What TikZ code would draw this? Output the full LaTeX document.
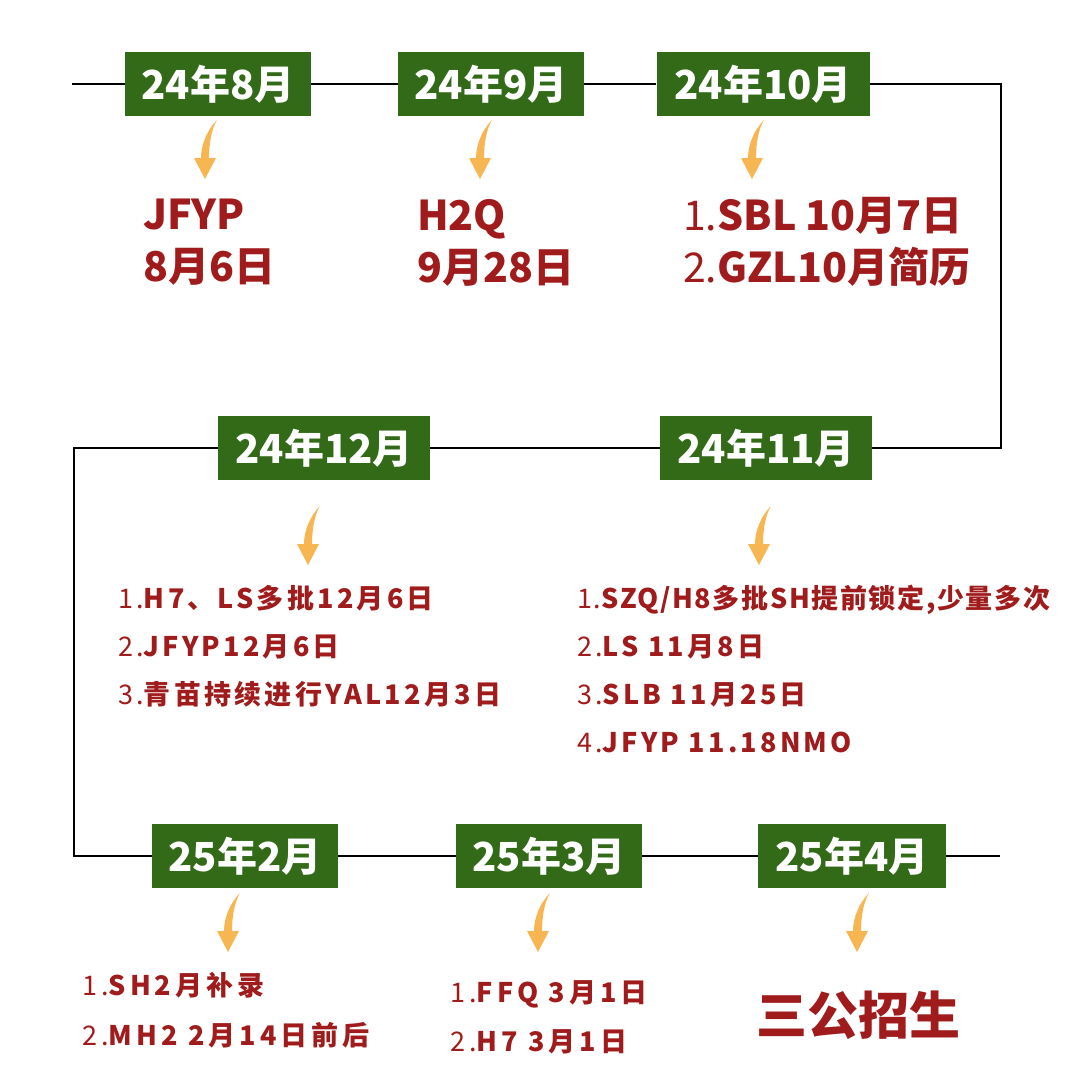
\documentclass[tikz,border=0pt]{standalone}
\usepackage{fontspec}
\setmainfont{Noto Sans CJK SC}
\newfontfamily\spfont{Noto Sans CJK SC}[LetterSpace=12]
\newfontfamily\spfontb{Noto Sans CJK SC}[LetterSpace=6]
\newfontfamily\spfontc{Noto Sans CJK SC}[LetterSpace=15]
\definecolor{boxg}{RGB}{50,106,24}
\definecolor{txtr}{RGB}{160,27,27}
\definecolor{arro}{RGB}{247,182,82}
\newcommand\nm[1]{{\mdseries#1}}
\begin{document}
\begin{tikzpicture}[x=1pt,y=-1pt,
  mbox/.style={fill=boxg, text=white, font=\fontsize{40}{40}\selectfont\bfseries, minimum height=64pt, inner sep=0pt},
  tline/.style={line width=2.5pt, black},
  big/.style={anchor=north west, inner sep=0pt, align=left, text=txtr, font=\fontsize{41}{52}\selectfont\bfseries},
  mid/.style={anchor=north west, inner sep=0pt, align=left, text=txtr, font=\fontsize{27}{48}\selectfont\spfont\bfseries},
  darrow/.pic={\fill[arro] (12,-59) .. controls (2,-49) and (-4,-34) .. (-4,-21) -- (-11,-21) -- (0,0) -- (11,-21) -- (4,-21) .. controls (4,-34) and (6,-49) .. (12,-59) -- cycle;}]
\useasboundingbox[fill=white] (0,0) rectangle (1080,1068);

% boxes
\node[mbox, minimum width=186pt] (b8)  at (218,84)  {24年8月};
\node[mbox, minimum width=186pt] (b9)  at (491,84)  {24年9月};
\node[mbox, minimum width=213pt] (b10) at (763,84)  {24年10月};
\node[mbox, minimum width=212pt] (b11) at (766,448) {24年11月};
\node[mbox, minimum width=212pt] (b12) at (324,448) {24年12月};
\node[mbox, minimum width=186pt] (b2)  at (245,856) {25年2月};
\node[mbox, minimum width=186pt] (b3)  at (549,856) {25年3月};
\node[mbox, minimum width=188pt] (b4)  at (852,856) {25年4月};

% corners
\coordinate (s)  at (72,84);
\coordinate (c1) at (1001,84);
\coordinate (c2) at (1001,448);
\coordinate (c3) at (74,448);
\coordinate (c4) at (74,856);
\coordinate (e)  at (1000,856);

% timeline
\draw[tline] (s) -- (b8);
\draw[tline] (b8) -- (b9);
\draw[tline] (b9) -- (b10);
\draw[tline] (b10) -- (c1) -- (c2) -- (b11);
\draw[tline] (b11) -- (b12);
\draw[tline] (b12) -- (c3) -- (c4) -- (b2);
\draw[tline] (b2) -- (b3);
\draw[tline] (b3) -- (b4);
\draw[tline] (b4) -- (e);

% arrows
\pic at (205,179) {darrow};
\pic at (480,179) {darrow};
\pic at (752,179) {darrow};
\pic at (308,565) {darrow};
\pic at (759,565) {darrow};
\pic at (228,952) {darrow};
\pic at (538,952) {darrow};
\pic at (857,952) {darrow};

% texts
\node[big] (t8)  at (143,199) {JFYP\\8月6日};
\node[big] (t9)  at (417,199) {H2Q\\9月28日};
\node[big] (t10) at (683,197) {\nm{1.}SBL 10月7日\\\nm{2.}GZL10月简历};
\node[mid] (t12) at (118,585) {\nm{1.}H7、LS多批12月6日\\\nm{2.}JFYP12月6日\\\nm{3.}青苗持续进行YAL12月3日};
\node[mid] (t11) at (577,585) {{\spfontb\nm{1.}SZQ/H8多批SH提前锁定,少量多次}\\\nm{2.}LS 11月8日\\\nm{3.}SLB 11月25日\\\nm{4.}JFYP 11.18NMO};
\node[mid, font=\fontsize{27}{50}\selectfont\spfontc\bfseries] (t2) at (82,972) {\nm{1.}SH2月补录\\\nm{2.}MH2 2月14日前后};
\node[mid, font=\fontsize{27}{49}\selectfont\spfontc\bfseries] (t3) at (450,980) {\nm{1.}FFQ 3月1日\\\nm{2.}H7 3月1日};
\node[text=txtr, font=\fontsize{51}{51}\selectfont\bfseries, inner sep=0pt] (t4) at (858,1015) {三公招生};
\end{tikzpicture}
\end{document}
